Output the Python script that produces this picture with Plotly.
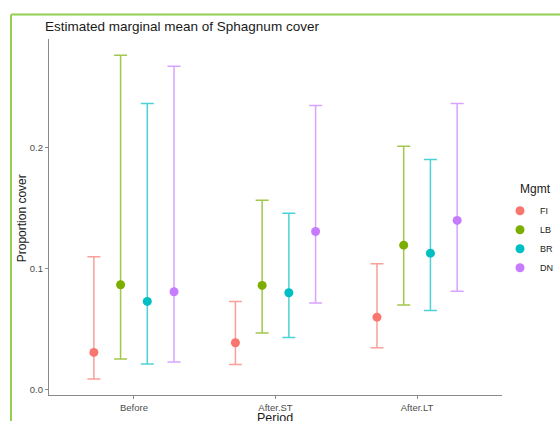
import plotly.graph_objects as go

periods = ["Before", "After.ST", "After.LT"]
groups = ["FI", "LB", "BR", "DN"]
colors = ["#F8766D", "#7CAE00", "#00BFC4", "#C77CFF"]
bar_colors = ["rgba(248,118,109,0.7)", "rgba(124,174,0,0.7)", "rgba(0,191,196,0.7)", "rgba(199,124,255,0.7)"]

mean_FI = [0.0308, 0.0388, 0.0600]
low_FI = [0.0088, 0.0209, 0.0347]
high_FI = [0.1100, 0.0730, 0.1041]

mean_LB = [0.0868, 0.0862, 0.1195]
low_LB = [0.0253, 0.0468, 0.0700]
high_LB = [0.2765, 0.1567, 0.2013]

mean_BR = [0.0730, 0.0802, 0.1129]
low_BR = [0.0212, 0.0432, 0.0655]
high_BR = [0.2366, 0.1460, 0.1903]

mean_DN = [0.0810, 0.1308, 0.1400]
low_DN = [0.0228, 0.0716, 0.0815]
high_DN = [0.2675, 0.2350, 0.2366]

means = [mean_FI, mean_LB, mean_BR, mean_DN]
lows = [low_FI, low_LB, low_BR, low_DN]
highs = [high_FI, high_LB, high_BR, high_DN]

L, T = 49, 38.5
PW, PH = 453, 356.5
W, H = 560, 421

fig = go.Figure()
for g, c, bc, m, lo, hi in zip(groups, colors, bar_colors, means, lows, highs):
    fig.add_trace(go.Scatter(
        x=periods, y=m, name=g, mode="markers", offsetgroup=g,
        marker=dict(color=c, size=9),
        error_y=dict(type="data", symmetric=False,
                     array=[h - v for h, v in zip(hi, m)],
                     arrayminus=[v - l for v, l in zip(m, lo)],
                     color=bc, thickness=1.5, width=6.5),
    ))

fig.update_layout(
    width=W, height=H,
    margin=dict(l=L, r=W - L - PW, t=T, b=H - T - PH, autoexpand=False),
    paper_bgcolor="white", plot_bgcolor="white",
    scattermode="group", scattergap=0.245,
    font=dict(family="Liberation Sans, Arial, sans-serif"),
    title=dict(text="Estimated marginal mean of Sphagnum cover",
               x=45 / W, xanchor="left", xref="container",
               y=1 - 26 / H, yanchor="middle", yref="container",
               font=dict(size=13.5, color="#1a1a1a")),
    legend=dict(xref="paper", yref="paper",
                x=(500 - L) / PW, xanchor="left",
                y=(T + PH - 196) / PH, yanchor="top",
                font=dict(size=9, color="#1a1a1a"),
                itemsizing="trace", tracegroupgap=0),
    showlegend=True,
)

fig.update_xaxes(
    type="category", categoryorder="array", categoryarray=periods,
    range=[-0.6, 2.6], automargin=False,
    showline=True, linecolor="#8a8a8a", linewidth=1.2,
    ticks="outside", ticklen=3, tickcolor="#8a8a8a",
    tickfont=dict(size=9.5, color="#4D4D4D"),
    showgrid=False, zeroline=False,
)
fig.update_yaxes(
    range=[-0.0044, 0.29], automargin=False,
    tickvals=[0, 0.1, 0.2], ticktext=["0.0", "0.1", "0.2"],
    showline=True, linecolor="#8a8a8a", linewidth=1.2,
    ticks="outside", ticklen=3, tickcolor="#8a8a8a",
    tickfont=dict(size=9.5, color="#4D4D4D"),
    showgrid=False, zeroline=False,
)

# legend title
fig.add_annotation(text="Mgmt", xref="paper", yref="paper",
                   x=(518 - L) / PW, y=(T + PH - 189) / PH,
                   xanchor="left", yanchor="middle", showarrow=False,
                   font=dict(size=12, color="#1a1a1a"))

# axis titles
fig.add_annotation(text="Period", xref="paper", yref="paper",
                   x=(275 - L) / PW, y=(T + PH - 418) / PH,
                   xanchor="center", yanchor="middle", showarrow=False,
                   font=dict(size=12.5, color="#1a1a1a"))
fig.add_annotation(text="Proportion cover", xref="paper", yref="paper",
                   x=(22 - L) / PW, y=(T + PH - 218) / PH,
                   xanchor="center", yanchor="middle", showarrow=False, textangle=-90,
                   font=dict(size=12, color="#1a1a1a"))

# green frame of the screenshot
fx = (11 - L) / PW
fy = (T + PH - 14) / PH
fig.add_shape(type="line", xref="paper", yref="paper", x0=fx, x1=fx, y0=-0.2, y1=fy,
              line=dict(color="#92D050", width=2))
fig.add_shape(type="line", xref="paper", yref="paper", x0=fx, x1=1.3, y0=fy, y1=fy,
              line=dict(color="#92D050", width=2))

fig.write_html("out.html", default_width="560px", default_height="421px",
               config={"displayModeBar": False},
               post_script="document.body.style.margin='0';document.body.style.overflow='hidden';")
